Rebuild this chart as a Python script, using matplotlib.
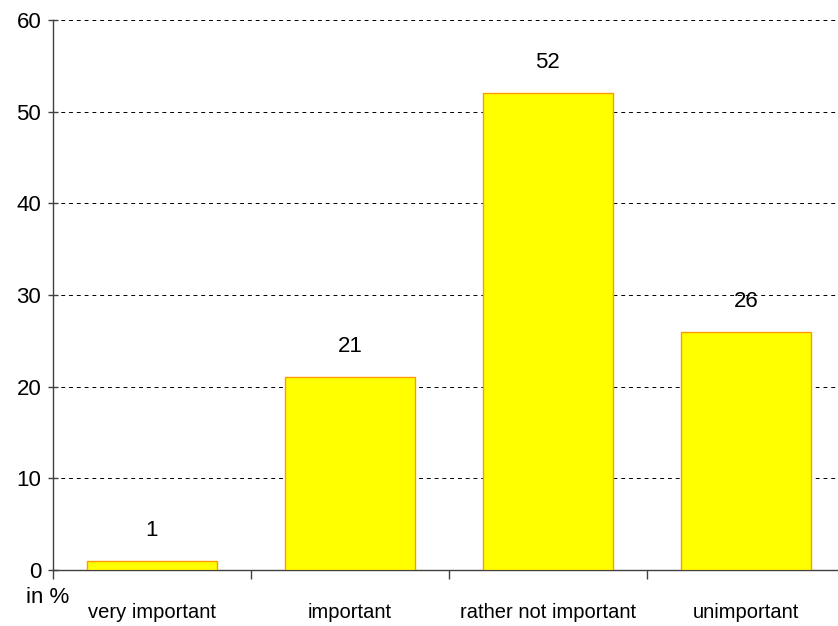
import matplotlib
matplotlib.use("Agg")
import matplotlib.pyplot as plt
import numpy as np

categories = ["very important", "important", "rather not important", "unimportant"]
values = [1, 21, 52, 26]
y_ticks = [0, 10, 20, 30, 40, 50, 60]

plt.rcParams["font.family"] = ["Liberation Sans", "DejaVu Sans"]

fig = plt.figure(figsize=(8.38, 6.26), dpi=100)
ax = fig.add_axes([0.0632, 0.0895, 0.945, 0.8785])

x = np.arange(len(categories))
ax.bar(x, values, width=0.66, color="#FFFF00", edgecolor="#FF9900", linewidth=1.0, zorder=3)

ax.set_xlim(-0.5, len(categories) - 0.5)
ax.set_ylim(0, 60)
ax.set_yticks(y_ticks)
ax.yaxis.grid(True, linestyle=(0, (4, 4)), color="black", linewidth=0.7, zorder=0)

# category separators as ticks, names centred below the bars
ax.set_xticks(np.arange(len(categories) + 1) - 0.5)
ax.set_xticklabels([])
ax.set_xticks(x, minor=True)
ax.set_xticklabels(categories, minor=True, fontsize=14.5)
ax.tick_params(axis="x", which="minor", length=0, pad=24)
ax.tick_params(axis="x", which="major", length=6.5, width=1, color="#404040")
ax.tick_params(axis="y", direction="inout", length=7, width=1, color="#404040", labelsize=16, pad=5)

for side in ["top", "right"]:
    ax.spines[side].set_visible(False)
for side in ["left", "bottom"]:
    ax.spines[side].set_color("#404040")
    ax.spines[side].set_linewidth(1)

# value above each bar
for xi, v in zip(x, values):
    ax.annotate(str(v), (xi, v), xytext=(0, 22), textcoords="offset points",
                ha="center", va="center", fontsize=16)

fig.text(0.057, 0.045, "in %", ha="center", va="center", fontsize=16)

fig.savefig("out.png", dpi=100)
